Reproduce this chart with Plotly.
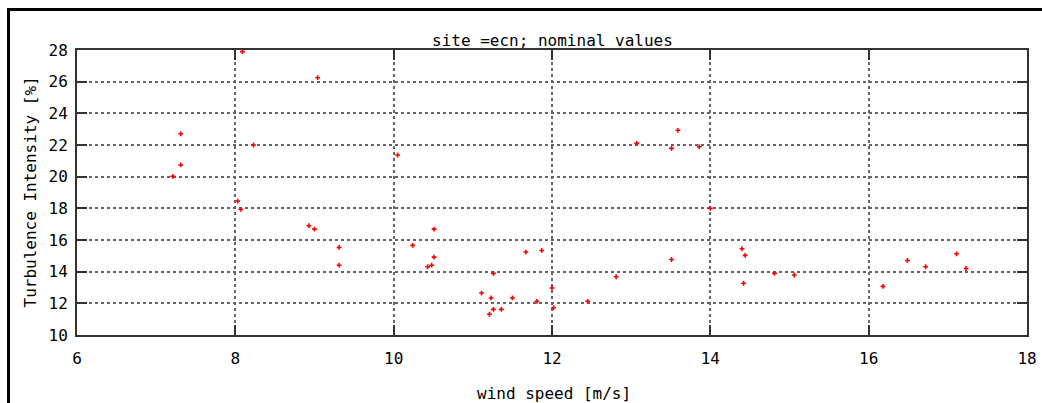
import plotly.graph_objects as go

wind_speed = [8.09, 9.04, 7.31, 8.23, 10.05, 7.31, 7.21, 8.03, 8.07, 8.93, 9.00, 9.31, 9.31,
              10.24, 10.51, 10.51, 10.43, 10.48, 11.26, 11.11, 11.23, 11.26, 11.21, 11.36,
              11.50, 11.67, 11.87, 11.81, 12.00, 12.02, 12.45, 12.81, 13.07, 13.51, 13.59,
              13.86, 14.00, 13.51, 14.40, 14.44, 14.42, 14.81, 15.06, 16.18, 16.49, 16.72,
              17.11, 17.23]
turbulence = [27.9, 26.25, 22.71, 22.0, 21.37, 20.74, 20.02, 18.46, 17.93, 16.9, 16.69, 15.53, 14.41,
              15.66, 16.69, 14.92, 14.31, 14.41, 13.89, 12.65, 12.34, 11.62, 11.31, 11.62,
              12.34, 15.24, 15.34, 12.13, 12.97, 11.72, 12.13, 13.68, 22.10, 21.79, 22.93,
              21.89, 18.0, 14.77, 15.45, 15.03, 13.27, 13.89, 13.79, 13.07, 14.71, 14.31,
              15.13, 14.20]

x_ticks = [6, 8, 10, 12, 14, 16, 18]
y_ticks = [10, 12, 14, 16, 18, 20, 22, 24, 26, 28]

title_text = "site =ecn; nominal values"
x_title = "wind speed [m/s]"
y_title = "Turbulence Intensity [%]"

FONT = "DejaVu Sans Mono"
W, H = 1042, 403
L, R, T, B = 77, 1042 - 1027, 50, 403 - 335
pw, ph = W - L - R, H - T - B

def px_x(p):
    return (p - L) / pw

def px_y(p):
    return (H - B - p) / ph

fig = go.Figure()
fig.add_trace(go.Scatter(
    x=wind_speed, y=turbulence, mode="markers",
    marker=dict(symbol="cross", size=4, color="#ff0000", line=dict(width=0)),
    showlegend=False, cliponaxis=False,
))

axis_common = dict(
    showline=True, linecolor="#333333", linewidth=2, mirror="allticks",
    ticks="inside", ticklen=10, tickcolor="#333333", tickwidth=2,
    showgrid=True, gridcolor="#666666", griddash="3px,3px", gridwidth=1.5,
    zeroline=False, tickfont=dict(family=FONT, size=16, color="#000000"),
)

fig.update_xaxes(range=[6, 18], tickvals=x_ticks, ticktext=[str(v) for v in x_ticks],
                 ticklabelstandoff=8, **axis_common)
fig.update_yaxes(range=[10, 28], tickvals=y_ticks, ticktext=[str(v) for v in y_ticks],
                 ticklabelstandoff=4, **axis_common)

fig.update_layout(
    width=W, height=H,
    margin=dict(l=L, r=R, t=T, b=B, autoexpand=False),
    plot_bgcolor="white", paper_bgcolor="white",
    font=dict(family=FONT, size=16, color="#000000"),
    annotations=[
        dict(text=title_text, x=0.5, y=px_y(41), xref="paper", yref="paper",
             showarrow=False, xanchor="center", yanchor="middle",
             font=dict(family=FONT, size=16)),
        dict(text=x_title, x=px_x(554), y=px_y(393), xref="paper", yref="paper",
             showarrow=False, xanchor="center", yanchor="middle",
             font=dict(family=FONT, size=16)),
        dict(text=y_title, x=px_x(30), y=0.5, xref="paper", yref="paper",
             showarrow=False, xanchor="center", yanchor="middle", textangle=-90,
             font=dict(family=FONT, size=16)),
    ],
    shapes=[
        dict(type="line", xref="paper", yref="paper", x0=px_x(7), x1=px_x(1060),
             y0=px_y(9.5), y1=px_y(9.5), line=dict(color="black", width=3)),
        dict(type="line", xref="paper", yref="paper", x0=px_x(8.5), x1=px_x(8.5),
             y0=px_y(8), y1=px_y(420), line=dict(color="black", width=3)),
    ],
)

fig.write_html(
    "out.html",
    config={"responsive": False, "displayModeBar": False},
    post_script="document.body.style.margin='0';document.body.style.overflow='hidden';",
)
